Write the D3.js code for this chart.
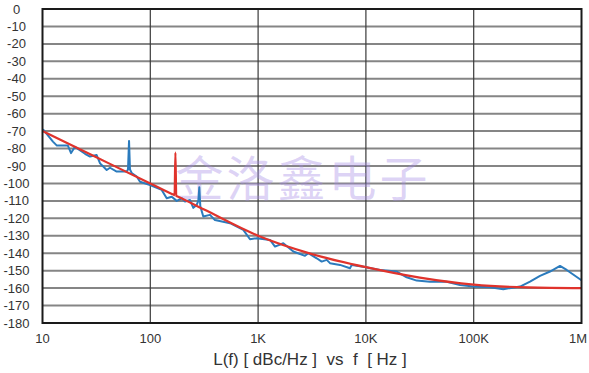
<!DOCTYPE html>
<html>
<head>
<meta charset="utf-8">
<script src="https://cdn.jsdelivr.net/npm/d3@7"></script>
<style>
html,body{margin:0;padding:0;background:#fff;}
svg{display:block;}
</style>
</head>
<body>
<svg id="chart" width="589" height="373"></svg>
<script>
// ---- data ----
const yTicks = [0,-10,-20,-30,-40,-50,-60,-70,-80,-90,-100,-110,-120,-130,-140,-150,-160,-170,-180];
const xTicks = [10,100,1000,10000,100000,1000000];
const xTickLabels = ["10","100","1K","10K","100K","1M"];
const titleText = "L(f) [ dBc/Hz ]  vs  f  [ Hz ]";
const watermark = "金洛鑫电子";

// measured phase noise (blue)
const blueFreq = [10,10.2,12.5,13.6,17.2,18.4,20,24.8,27.6,31.8,34.2,39.4,42.3,48.8,60.4,62.1,63.5,64.8,67.2,74.8,80.3,99.4,127.6,142,158,175.8,195.6,209.8,233.5,250.6,269.4,278.8,284.8,291,310,358,398,549,729,841,971,1290,1435,1713,2121,2723,2922,3496,3890,4330,4645,5750,7120,7385,9460,13510,19310,23900,29600,39300,56170,74650,99150,141700,188200,268900,333000,412100,510400,631800,729000,968500,1000000];
const blueDb   = [-69.5,-69.3,-76,-78.3,-78.3,-82.6,-79,-83,-84.6,-83.7,-88.5,-92.3,-91,-93.2,-93.2,-92,-75.6,-92,-94,-96,-99,-100.9,-103.7,-108.5,-107.6,-110,-108.5,-110.4,-109.5,-114,-112.3,-110,-102.2,-113,-119,-118,-121,-122.8,-126.6,-132,-131.4,-132.4,-136.2,-134.3,-139,-141.5,-140,-142.9,-144.8,-143.8,-145.7,-146.7,-148.6,-146.7,-147.7,-149.6,-150.5,-153.8,-155.7,-156.3,-156.3,-158.2,-159.1,-159.5,-160.6,-159.1,-156.3,-153,-150.5,-147.3,-149.6,-154.9,-155.5];

// fitted / model curve (red), including spur near 170 Hz
const redFreq = [10,31.6,100,165,168,171,174,177,316,1000,3162,10000,31623,100000,316228,1000000];
const redDb   = [-70,-85,-100,-106.5,-106.7,-82.3,-107.2,-107.4,-115,-130,-140.5,-148,-154,-158,-159.6,-160];

// ---- layout ----
const svg = d3.select("#chart");
const L = 42.5, R = 581.5, T = 9, B = 323;

const x = d3.scaleLog().domain([10, 1000000]).range([L, R]);
const y = d3.scaleLinear().domain([-180, 0]).range([B, T]);

// horizontal grid
svg.append("g")
  .selectAll("line").data(yTicks.filter(d => d !== 0 && d !== -180)).join("line")
  .attr("x1", L).attr("x2", R)
  .attr("y1", d => y(d)).attr("y2", d => y(d))
  .attr("stroke", "#858585").attr("stroke-width", 2);

// vertical grid
svg.append("g")
  .selectAll("line").data(xTicks.slice(1, -1)).join("line")
  .attr("x1", d => x(d)).attr("x2", d => x(d))
  .attr("y1", T).attr("y2", B)
  .attr("stroke", "#3a3a3a").attr("stroke-width", 1.2);

// watermark
svg.append("text")
  .attr("x", 303).attr("y", 196)
  .attr("text-anchor", "middle")
  .attr("font-family", "'Noto Sans CJK SC', sans-serif")
  .attr("font-size", 48)
  .attr("letter-spacing", 3)
  .attr("fill", "rgba(165,140,230,0.38)")
  .text(watermark);

// lines
const blueData = blueFreq.map((f, i) => [f, blueDb[i]]);
const redData = redFreq.map((f, i) => [f, redDb[i]]);

const lineLin = d3.line().x(d => x(d[0])).y(d => y(d[1]));

svg.append("path").datum(blueData)
  .attr("d", lineLin)
  .attr("fill", "none").attr("stroke", "#2b7bbd").attr("stroke-width", 2)
  .attr("stroke-linejoin", "round");

svg.append("path").datum(redData)
  .attr("d", d3.line().x(d => x(d[0])).y(d => y(d[1])).curve(d3.curveMonotoneX))
  .attr("fill", "none").attr("stroke", "#e0332c").attr("stroke-width", 2.2)
  .attr("stroke-linejoin", "round");

// border
svg.append("rect")
  .attr("x", L).attr("y", T).attr("width", R - L).attr("height", B - T)
  .attr("fill", "none").attr("stroke", "#1a1a1a").attr("stroke-width", 2);

// y labels
svg.append("g")
  .selectAll("text").data(yTicks).join("text")
  .attr("x", 16.5).attr("y", d => y(d) + 4.5)
  .attr("text-anchor", "middle")
  .attr("font-family", "Arial, 'Liberation Sans', sans-serif")
  .attr("font-size", 13).attr("fill", "#333")
  .text(d => d);

// x labels
const lastTick = xTicks[xTicks.length - 1];
svg.append("g")
  .selectAll("text").data(xTicks).join("text")
  .attr("x", d => d === lastTick ? 587 : x(d)).attr("y", 343)
  .attr("text-anchor", d => d === lastTick ? "end" : "middle")
  .attr("font-family", "Arial, 'Liberation Sans', sans-serif")
  .attr("font-size", 13).attr("fill", "#333")
  .text((d, i) => xTickLabels[i]);

// title
svg.append("text")
  .attr("x", 310).attr("y", 365)
  .attr("text-anchor", "middle")
  .attr("font-family", "Arial, 'Liberation Sans', sans-serif")
  .attr("font-size", 17).attr("fill", "#333")
  .attr("xml:space", "preserve")
  .style("white-space", "pre")
  .text(titleText);
</script>
</body>
</html>
